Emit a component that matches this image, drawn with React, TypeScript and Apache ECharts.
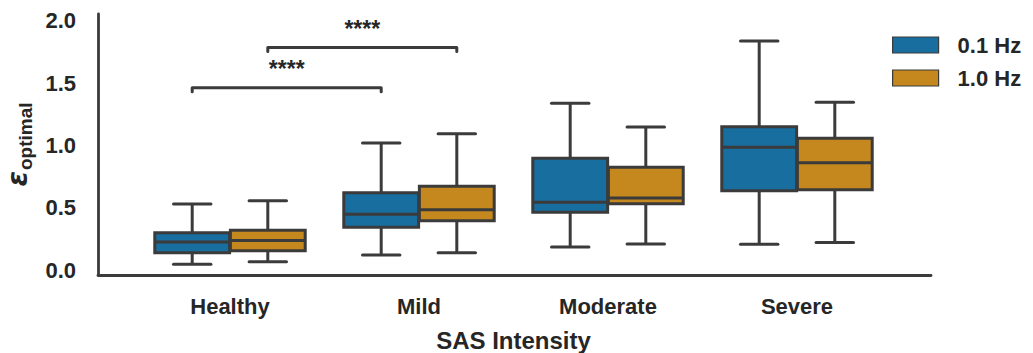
import React, { useEffect, useRef } from "react";
import * as echarts from "echarts";

const categories = ["Healthy", "Mild", "Moderate", "Severe"];
const seriesNames = ["0.1 Hz", "1.0 Hz"];
// each row: [min, q1, median, q3, max]
const hz01 = [
  [0.046, 0.139, 0.225, 0.3, 0.53],
  [0.12, 0.343, 0.447, 0.621, 1.02],
  [0.185, 0.463, 0.544, 0.897, 1.339],
  [0.206, 0.637, 0.985, 1.151, 1.839],
];
const hz10 = [
  [0.067, 0.155, 0.238, 0.32, 0.557],
  [0.139, 0.396, 0.484, 0.672, 1.095],
  [0.209, 0.533, 0.578, 0.825, 1.149],
  [0.222, 0.645, 0.862, 1.058, 1.347],
];
const yTicks = [0, 0.5, 1, 1.5, 2];
// brackets: [category A, hue A, category B, hue B, height]
const brackets = [
  [0, 0, 1, 0, 1.464],
  [0, 1, 1, 1, 1.786],
];
const bracketLabels = ["****", "****"];

const BLUE = "#196ea0";
const ORANGE = "#c4881f";
const EDGE = "#3b3b3b";
const TEXT = "#262626";
const FONT = "'Liberation Sans', Arial, sans-serif";
const Y_MIN = -0.04;
const Y_MAX = 2.056;

function boxSeries(name: string, rows: number[][], color: string, hue: number) {
  return {
    type: "custom",
    name,
    xAxisIndex: 0,
    yAxisIndex: 0,
    itemStyle: { color },
    encode: { x: 0, y: [1, 2, 3, 4, 5] },
    data: rows.map((r, i) => [i, ...r]),
    renderItem: (params: any, api: any) => {
      const ci = api.value(0);
      const band = api.size([1, 0])[0];
      const cx = api.coord([ci, 0])[0] + (hue === 0 ? -0.2 : 0.2) * band;
      const hw = (band * 0.4 * 0.99) / 2;
      const y = (k: number) => api.coord([ci, api.value(k)])[1];
      const yMin = y(1), yQ1 = y(2), yMed = y(3), yQ3 = y(4), yMax = y(5);
      const ls = { stroke: EDGE, lineWidth: 3, fill: null };
      return {
        type: "group",
        children: [
          { type: "line", shape: { x1: cx, y1: yQ3, x2: cx, y2: yMax }, style: ls },
          { type: "line", shape: { x1: cx, y1: yQ1, x2: cx, y2: yMin }, style: ls },
          { type: "line", shape: { x1: cx - hw / 2, y1: yMax, x2: cx + hw / 2, y2: yMax }, style: { ...ls, lineCap: "round" } },
          { type: "line", shape: { x1: cx - hw / 2, y1: yMin, x2: cx + hw / 2, y2: yMin }, style: { ...ls, lineCap: "round" } },
          {
            type: "rect",
            shape: { x: cx - hw, y: yQ3, width: hw * 2, height: yQ1 - yQ3 },
            style: { fill: color, stroke: EDGE, lineWidth: 3 },
          },
          { type: "line", shape: { x1: cx - hw, y1: yMed, x2: cx + hw, y2: yMed }, style: ls },
        ],
      };
    },
  };
}

export default function App() {
  const ref = useRef<HTMLDivElement>(null);
  useEffect(() => {
    if (!ref.current) return;
    const chart = echarts.init(ref.current, undefined, { renderer: "svg" });
    const option: any = {
      animation: false,
      backgroundColor: "#ffffff",
      textStyle: { fontFamily: FONT },
      legend: {
        orient: "vertical",
        left: 887,
        top: 29,
        itemWidth: 46,
        itemHeight: 16,
        itemGap: 11,
        textStyle: { fontSize: 22, fontWeight: "bold", color: TEXT, fontFamily: FONT, padding: [0, 0, 0, 14] },
        data: [
          { name: seriesNames[0], icon: "rect", itemStyle: { color: BLUE, borderColor: EDGE, borderWidth: 1.2 } },
          { name: seriesNames[1], icon: "rect", itemStyle: { color: ORANGE, borderColor: EDGE, borderWidth: 1.2 } },
        ],
      },
      grid: [
        { left: 135.5, right: 141.5, top: 14, bottom: 78, containLabel: false, outerBoundsMode: "none" },
        { left: 98, right: 102, top: 14, bottom: 78, containLabel: false, outerBoundsMode: "none" },
      ],
      xAxis: [
        {
          type: "category",
          gridIndex: 0,
          data: categories,
          axisLine: { show: false, onZero: false },
          axisTick: { show: false },
          axisLabel: { fontSize: 22, fontWeight: "bold", color: TEXT, margin: 20, fontFamily: FONT },
          name: "SAS Intensity",
          nameLocation: "middle",
          nameGap: 53,
          nameTextStyle: { fontSize: 24, fontWeight: "bold", color: TEXT, fontFamily: FONT },
        },
        {
          type: "value",
          gridIndex: 1,
          min: 0,
          max: 1,
          axisLine: { show: true, onZero: false, lineStyle: { color: EDGE, width: 2.8 } },
          axisTick: { show: false },
          axisLabel: { show: false },
          splitLine: { show: false },
        },
      ],
      yAxis: [
        {
          type: "value",
          gridIndex: 0,
          min: Y_MIN,
          max: Y_MAX,
          show: false,
          splitLine: { show: false },
        },
        {
          type: "value",
          gridIndex: 1,
          min: Y_MIN,
          max: Y_MAX,
          axisLine: { show: true, onZero: false, lineStyle: { color: EDGE, width: 2.8 } },
          axisTick: { show: false },
          splitLine: { show: false },
          axisLabel: {
            showMinLabel: false,
            showMaxLabel: false,
            fontSize: 22,
            fontWeight: "bold",
            color: TEXT,
            margin: 22,
            fontFamily: FONT,
            formatter: (v: number) =>
              yTicks.some((t) => Math.abs(t - v) < 1e-6) ? v.toFixed(1) : "",
          },
          name: "{eps|ε}{sub|optimal}",
          nameLocation: "middle",
          nameGap: 61,
          nameTextStyle: {
            color: TEXT,
            rich: {
              eps: { fontSize: 28, fontWeight: "bold", fontStyle: "italic", color: TEXT, fontFamily: "'DejaVu Sans', sans-serif", lineHeight: 34, verticalAlign: "middle" },
              sub: { fontSize: 19, fontWeight: "bold", color: TEXT, fontFamily: FONT, lineHeight: 24, verticalAlign: "bottom", padding: [0, 0, 0, 1] },
            },
          },
        },
      ],
      series: [
        boxSeries(seriesNames[0], hz01, BLUE, 0),
        boxSeries(seriesNames[1], hz10, ORANGE, 1),
        {
          type: "custom",
          name: "brackets",
          xAxisIndex: 0,
          yAxisIndex: 0,
          encode: { x: [0, 1], y: 2 },
          data: brackets.map((b, i) => [b[0], b[2], b[4], b[1], b[3], i]),
          renderItem: (params: any, api: any) => {
            const band = api.size([1, 0])[0];
            const h = api.value(2);
            const off = (hue: number) => (hue === 0 ? -0.2 : 0.2) * band;
            const x1 = api.coord([api.value(0), h])[0] + off(api.value(3));
            const x2 = api.coord([api.value(1), h])[0] + off(api.value(4));
            const yy = api.coord([api.value(0), h])[1];
            const label = bracketLabels[api.value(5)];
            return {
              type: "group",
              children: [
                {
                  type: "polyline",
                  shape: { points: [[x1, yy + 4], [x1, yy], [x2, yy], [x2, yy + 4]] },
                  style: { stroke: EDGE, lineWidth: 3, fill: null, lineJoin: "round", lineCap: "round" },
                },
                {
                  type: "text",
                  x: (x1 + x2) / 2,
                  y: yy - 19,
                  style: {
                    text: label,
                    align: "center",
                    verticalAlign: "middle",
                    fontSize: 23,
                    fontWeight: "bold",
                    fill: TEXT,
                    fontFamily: FONT,
                  },
                },
              ],
            };
          },
        },
      ],
    };
    chart.setOption(option);
    return () => chart.dispose();
  }, []);
  return <div ref={ref} style={{ width: 1033, height: 353, position: "absolute", left: 0, top: 0 }} />;
}
